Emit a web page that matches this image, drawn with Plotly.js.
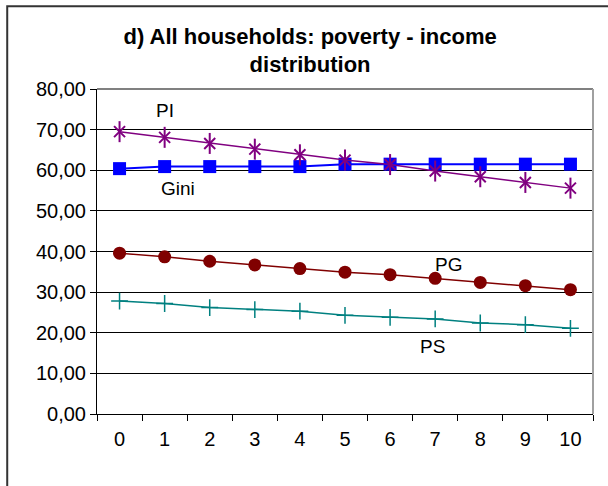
<!DOCTYPE html>
<html><head><meta charset="utf-8">
<script src="https://cdn.plot.ly/plotly-3.0.1.min.js"></script>
<style>html,body{margin:0;padding:0;background:#fff}#chart{width:608px;height:486px}</style>
</head><body><div id="chart"></div>
<script>
const categories = ['0','1','2','3','4','5','6','7','8','9','10'];
const PI   = [69.5, 68.1, 66.6, 65.2, 63.8, 62.5, 61.4, 59.8, 58.4, 57.0, 55.6];
const Gini = [60.4, 60.9, 60.9, 60.9, 60.9, 61.5, 61.5, 61.5, 61.5, 61.5, 61.5];
const PG   = [39.6, 38.7, 37.6, 36.7, 35.8, 34.9, 34.3, 33.4, 32.4, 31.6, 30.6];
const PS   = [27.8, 27.2, 26.2, 25.7, 25.3, 24.3, 23.8, 23.4, 22.4, 22.0, 21.1];
const yTicks = [0,10,20,30,40,50,60,70,80];

const purple = '#800080';
const traces = [
  {x: categories, y: Gini, name:'Gini', mode:'lines+markers',
   line:{color:'#0000FF', width:2},
   marker:{symbol:'square', size:13, color:'#0000FF'}},
  {x: categories, y: PI, name:'PI', mode:'lines+markers',
   line:{color:purple, width:1.5},
   marker:{symbol:'x-thin-open', size:11, color:purple, line:{color:purple, width:2}}},
  {x: categories, y: PI, name:'PI', mode:'markers', hoverinfo:'skip',
   marker:{symbol:'line-ns-open', size:15, color:purple, line:{color:purple, width:2}}},
  {x: categories, y: PG, name:'PG', mode:'lines+markers',
   line:{color:'#800000', width:1.5},
   marker:{symbol:'circle', size:13, color:'#800000'}},
  {x: categories, y: PS, name:'PS', mode:'lines+markers',
   line:{color:'#008080', width:1.5},
   marker:{symbol:'cross-thin-open', size:12, color:'#008080', line:{color:'#008080', width:1.5}}}
];

const font = {family:'"Liberation Sans", Arial, sans-serif', color:'#000'};
const layout = {
  width:608, height:486,
  margin:{l:97, r:15, t:89, b:72},
  paper_bgcolor:'#fff', plot_bgcolor:'#fff',
  separators:',.',
  showlegend:false,
  font: Object.assign({size:17}, font),
  title:{text:'<b>d) All households: poverty - income<br>distribution</b>',
         font:Object.assign({size:22}, font), x:0.51, xanchor:'center', y:0.91, yanchor:'middle'},
  xaxis:{type:'category', range:[-0.5,10.5], tickson:'boundaries', ticks:'outside', ticklen:6,
         tickcolor:'#000', showline:true, linecolor:'#000', linewidth:1, showgrid:false,
         ticklabelstandoff:7,
         tickfont:Object.assign({size:20}, font), fixedrange:true},
  yaxis:{range:[0,80], tickvals:yTicks, tickformat:'.2f', ticks:'outside', ticklen:6,
         tickcolor:'#000', showline:true, linecolor:'#000', linewidth:1,
         showgrid:true, gridcolor:'#000', gridwidth:1, zeroline:false,
         tickfont:Object.assign({size:20}, font), fixedrange:true},
  shapes:[
    {type:'line', xref:'paper', yref:'paper', x0:0, x1:1, y0:1, y1:1, line:{color:'#808080', width:2}},
    {type:'line', xref:'paper', yref:'paper', x0:1, x1:1, y0:0, y1:1, line:{color:'#a0a0a0', width:2}},
    {type:'rect', xref:'paper', yref:'paper', x0:-0.181, x1:1.05, y0:-0.3, y1:1.255,
     line:{color:'#333', width:2}, fillcolor:'rgba(0,0,0,0)', layer:'below'}
  ],
  annotations:[
    {x:1.0, y:74.6, text:'PI', showarrow:false, font:Object.assign({size:19}, font)},
    {x:1.3, y:55.5, text:'Gini', showarrow:false, font:Object.assign({size:19}, font)},
    {x:7.3, y:36.8, text:'PG', showarrow:false, font:Object.assign({size:19}, font)},
    {x:6.95, y:16.7, text:'PS', showarrow:false, font:Object.assign({size:19}, font)}
  ]
};
Plotly.newPlot('chart', traces, layout, {displayModeBar:false, staticPlot:true});
</script>
</body></html>
